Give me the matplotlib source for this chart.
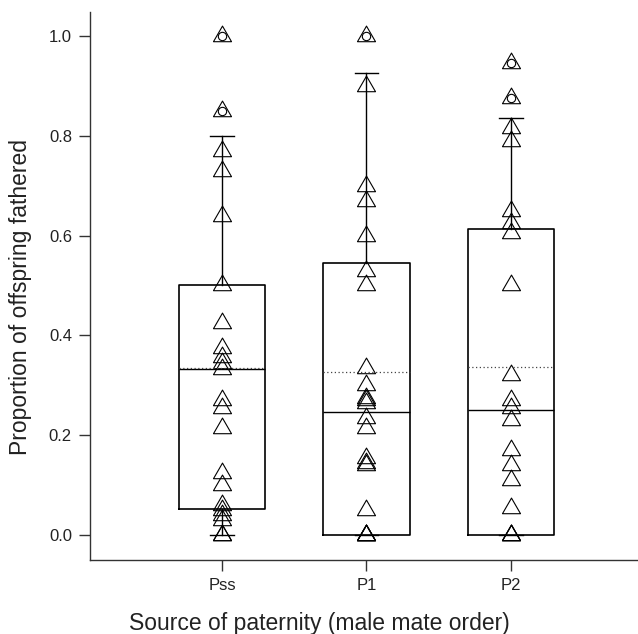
import numpy as np
import matplotlib
matplotlib.use("Agg")
import matplotlib.pyplot as plt
from matplotlib.path import Path

plt.rcParams['font.family'] = ['Liberation Sans', 'DejaVu Sans']

# data
groups = ['Pss', 'P1', 'P2']
pss = [1.0, 0.85, 0.77, 0.73, 0.64, 0.5, 0.425, 0.375, 0.357, 0.345, 0.333,
       0.27, 0.255, 0.215, 0.125, 0.1, 0.06, 0.05, 0.04, 0.03, 0.0, 0.0]
p1 = [1.0, 0.9, 0.7, 0.67, 0.6, 0.53, 0.5, 0.335, 0.3, 0.275, 0.27, 0.265,
      0.235, 0.215, 0.155, 0.145, 0.14, 0.05, 0.0, 0.0, 0.0, 0.0]
p2 = [0.945, 0.875, 0.815, 0.79, 0.65, 0.625, 0.605, 0.5, 0.32, 0.27, 0.255,
      0.23, 0.17, 0.14, 0.11, 0.055, 0.0, 0.0, 0.0]
points = [pss, p1, p2]

# box statistics (SigmaPlot style: 10th/90th whiskers, dotted mean)
q1 = [0.052, 0.0, 0.0]
median = [0.333, 0.247, 0.25]
q3 = [0.5, 0.545, 0.613]
mean = [0.335, 0.326, 0.336]
whis_lo = [0.0, 0.0, 0.0]
whis_hi = [0.80, 0.926, 0.836]

stats = []
for i in range(len(groups)):
    vals = np.array(points[i])
    stats.append({
        'label': groups[i], 'q1': q1[i], 'med': median[i], 'q3': q3[i],
        'mean': mean[i], 'whislo': whis_lo[i], 'whishi': whis_hi[i],
        'fliers': vals[(vals > whis_hi[i]) | (vals < whis_lo[i])],
    })

# triangle centred on its centroid
tri = Path([(0, 1), (-0.866, -0.5), (0.866, -0.5), (0, 1)],
           [Path.MOVETO, Path.LINETO, Path.LINETO, Path.CLOSEPOLY])

fig = plt.figure(figsize=(6.38, 6.34), dpi=100)
ax = fig.add_axes([90 / 638, 74 / 634, 548 / 638, 548 / 634])

pos = np.arange(1, len(groups) + 1)
ax.bxp(stats, positions=pos, widths=0.6, showmeans=True, meanline=True,
       showfliers=True,
       boxprops=dict(color='black', linewidth=1.2),
       medianprops=dict(color='black', linewidth=1.0),
       meanprops=dict(color='#444444', linewidth=0.9, linestyle=(0, (1, 2))),
       whiskerprops=dict(color='black', linewidth=1.0),
       capprops=dict(color='black', linewidth=1.0),
       capwidths=0.16,
       flierprops=dict(marker='o', markerfacecolor='none',
                       markeredgecolor='black', markersize=6,
                       markeredgewidth=0.8))

for i in range(len(groups)):
    ax.plot(np.full(len(points[i]), pos[i]), points[i], linestyle='none',
            marker=tri, markersize=15, markerfacecolor='none',
            markeredgecolor='black', markeredgewidth=0.8)

ax.set_xlim(0.0865, 3.879)
ax.set_ylim(-0.0501, 1.048)
ax.set_yticks([0.0, 0.2, 0.4, 0.6, 0.8, 1.0])
ax.set_yticklabels(['0.0', '0.2', '0.4', '0.6', '0.8', '1.0'])
ax.set_xticks(pos)
ax.set_xticklabels(groups)

for s in ['top', 'right']:
    ax.spines[s].set_visible(False)
for s in ['left', 'bottom']:
    ax.spines[s].set_color('#333333')
    ax.spines[s].set_linewidth(1.0)
ax.tick_params(axis='both', direction='out', length=8, width=1.0,
               color='#333333', labelsize=12, labelcolor='#222222', pad=5)

ax.set_xlabel('Source of paternity (male mate order)', fontsize=16.5,
              color='#222222')
ax.set_ylabel('Proportion of offspring fathered', fontsize=16.5,
              color='#222222')
ax.xaxis.set_label_coords(0.418, -0.095)
ax.yaxis.set_label_coords(-0.106, 0.48)

fig.savefig('out.png', dpi=100)
